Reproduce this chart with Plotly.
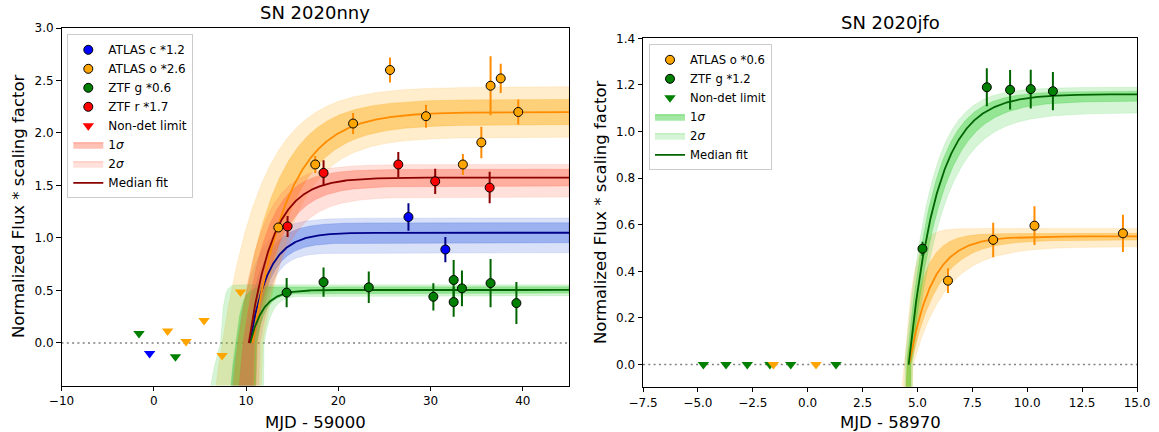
import numpy as np
import plotly.graph_objects as go

# ---------------- DATA: SN 2020nny (left) ----------------
c_x = [27.6, 31.6]
c_y = [1.20, 0.89]
c_err = [0.13, 0.12]

o_x = [13.5, 17.5, 21.6, 25.6, 29.5, 33.5, 35.5, 36.5, 37.6, 39.5]
o_y = [1.10, 1.70, 2.09, 2.60, 2.16, 1.70, 1.91, 2.45, 2.52, 2.20]
o_err = [0.04, 0.08, 0.10, 0.12, 0.11, 0.10, 0.15, 0.28, 0.14, 0.12]

g_x = [14.4, 18.4, 23.3, 30.3, 32.5, 32.5, 33.4, 36.5, 39.3]
g_y = [0.48, 0.58, 0.53, 0.44, 0.60, 0.39, 0.52, 0.57, 0.38]
g_err = [0.14, 0.14, 0.15, 0.13, 0.19, 0.14, 0.17, 0.23, 0.20]

r_x = [14.5, 18.4, 26.5, 30.5, 36.4]
r_y = [1.11, 1.62, 1.70, 1.54, 1.48]
r_err = [0.10, 0.12, 0.12, 0.12, 0.15]

nd_c_x = [-0.45]
nd_c_y = [-0.10]
nd_o_x = [1.5, 3.5, 5.45, 7.4, 9.4]
nd_o_y = [0.115, 0.015, 0.215, -0.12, 0.485]
nd_g_x = [-1.6, 2.35]
nd_g_y = [0.09, -0.13]

# fit parameters [A, t0, tau, tau_neg] per band: ATLAS c, ATLAS o, ZTF g, ZTF r
left_names = ["c", "o", "g", "r"]
left_med = [[1.05, 10.4, 2.0, 1.0], [2.20, 10.7, 3.9, 1.0], [0.505, 10.45, 1.4, 1.0], [1.575, 10.3, 2.6, 1.0]]
left_u2 = [[1.19, 9.0, 2.0, 2.0], [2.44, 7.4, 4.4, 4.4], [0.555, 7.25, 0.3, 2.0], [1.70, 9.1, 2.6, 2.5]]
left_l2 = [[0.86, 11.2, 1.5, 0.3], [1.96, 11.8, 3.8, 0.5], [0.45, 11.95, 0.85, 0.05], [1.39, 11.5, 2.8, 0.3]]
left_u1 = [[1.145, 9.7, 2.0, 1.5], [2.32, 9.1, 4.0, 3.0], [0.535, 8.9, 0.6, 1.0], [1.655, 9.7, 2.5, 2.0]]
left_l1 = [[0.955, 10.8, 1.8, 0.3], [2.08, 11.2, 3.9, 0.5], [0.475, 11.1, 1.0, 0.1], [1.495, 10.9, 2.7, 0.3]]

# ---------------- DATA: SN 2020jfo (right) ----------------
ro_x = [6.39, 8.45, 10.33, 14.36]
ro_y = [0.36, 0.535, 0.596, 0.563]
ro_err = [0.053, 0.074, 0.083, 0.08]

rg_x = [5.23, 8.16, 9.22, 10.16, 11.17]
rg_y = [0.497, 1.19, 1.179, 1.182, 1.173]
rg_err = [0.03, 0.082, 0.085, 0.083, 0.082]

rnd_g_x = [-4.75, -3.72, -2.75, -1.72, -0.77, 1.29]
rnd_g_y = [0.0, 0.0, 0.0, 0.0, 0.0, 0.0]
rnd_o_x = [-1.56, 0.38]
rnd_o_y = [0.0, 0.0]

right_names = ["o", "g"]
right_med = [[0.55, 4.62, 1.03, 1.0], [1.16, 4.6, 1.28, 1.0]]
right_u2 = [[0.584, 4.4, 0.41, 0.63], [1.19, 4.42, 1.15, 0.2]]
right_l2 = [[0.506, 4.8, 1.5, 0.1], [1.08, 4.77, 1.45, 0.1]]
right_u1 = [[0.563, 4.52, 0.7, 0.3], [1.173, 4.5, 1.2, 0.15]]
right_l1 = [[0.535, 4.7, 1.25, 0.1], [1.131, 4.7, 1.38, 0.1]]

# ---------------- STYLE ----------------
FONT = "DejaVu Sans"
mcol = {"c": "blue", "o": "orange", "g": "green", "r": "red"}
lcol = {"c": "darkblue", "o": "darkorange", "g": "darkgreen", "r": "darkred"}
bcol = {"c": (65, 105, 225), "o": (255, 165, 0), "g": (50, 205, 50), "r": (255, 99, 71)}


def rgba(c, a):
    return "rgba(%d,%d,%d,%.3f)" % (c[0], c[1], c[2], a)


def model(t, p):
    A, t0, tau, tn = p
    u = t - t0
    pos = A * (1 - np.exp(-np.clip(u, 0, None) / tau))
    neg = A * (1 - np.exp(np.clip(np.clip(-u, 0, None) / tn, 0, 40)))
    return np.maximum(np.where(u >= 0, pos, neg), -5)


fig = go.Figure()


def add_band(t, up, lo, color, alpha, xa, ya):
    yu = model(t, up)
    yl = model(t, lo)
    fig.add_trace(go.Scatter(
        x=np.concatenate([t, t[::-1]]), y=np.concatenate([yu, yl[::-1]]),
        fill="toself", fillcolor=rgba(color, alpha), mode="lines",
        line=dict(width=0.6, color=rgba(color, alpha)), hoverinfo="skip",
        showlegend=False, xaxis=xa, yaxis=ya))


def add_panel(t, names, med, u2, l2, u1, l1, xa, ya):
    for i, n in enumerate(names):
        add_band(t, u2[i], l2[i], bcol[n], 0.2, xa, ya)
        add_band(t, u1[i], l1[i], bcol[n], 0.4, xa, ya)
    for i, n in enumerate(names):
        tm = t[t >= med[i][1]]
        fig.add_trace(go.Scatter(x=tm, y=model(tm, med[i]), mode="lines",
                                 line=dict(color=lcol[n], width=1.8),
                                 showlegend=False, xaxis=xa, yaxis=ya))


def add_points(x, y, err, n, xa, ya):
    fig.add_trace(go.Scatter(
        x=x, y=y, mode="markers",
        marker=dict(color=mcol[n], size=9, line=dict(color="black", width=1)),
        error_y=dict(type="data", array=err, visible=True, color=lcol[n], thickness=2, width=0),
        showlegend=False, xaxis=xa, yaxis=ya))


def add_nd(x, y, n, xa, ya):
    fig.add_trace(go.Scatter(
        x=x, y=y, mode="markers",
        marker=dict(color=mcol[n], size=10, symbol="triangle-down", line=dict(width=0)),
        showlegend=False, xaxis=xa, yaxis=ya))


tL = np.linspace(-10, 45, 2201)
tR = np.linspace(-7.5, 15, 1801)

add_panel(tL, left_names, left_med, left_u2, left_l2, left_u1, left_l1, "x", "y")
add_panel(tR, right_names, right_med, right_u2, right_l2, right_u1, right_l1, "x2", "y2")

add_points(c_x, c_y, c_err, "c", "x", "y")
add_points(o_x, o_y, o_err, "o", "x", "y")
add_points(g_x, g_y, g_err, "g", "x", "y")
add_points(r_x, r_y, r_err, "r", "x", "y")
add_nd(nd_c_x, nd_c_y, "c", "x", "y")
add_nd(nd_o_x, nd_o_y, "o", "x", "y")
add_nd(nd_g_x, nd_g_y, "g", "x", "y")

add_points(ro_x, ro_y, ro_err, "o", "x2", "y2")
add_points(rg_x, rg_y, rg_err, "g", "x2", "y2")
add_nd(rnd_g_x, rnd_g_y, "g", "x2", "y2")
add_nd(rnd_o_x, rnd_o_y, "o", "x2", "y2")

# ---------------- LEGENDS ----------------
def leg_marker(name, color, legend, symbol="circle", edge=True):
    fig.add_trace(go.Scatter(
        x=[None], y=[None], mode="markers", name=name, legend=legend,
        marker=dict(color=color, size=9 if symbol == "circle" else 10, symbol=symbol,
                    line=dict(color="black", width=1 if edge else 0))))


def leg_fill(name, color, alpha, legend):
    fig.add_trace(go.Scatter(
        x=[None], y=[None], mode="lines", fill="toself", name=name, legend=legend,
        fillcolor=rgba(color, alpha), line=dict(color=rgba(color, alpha + 0.15), width=1)))


def leg_line(name, color, legend):
    fig.add_trace(go.Scatter(x=[None], y=[None], mode="lines", name=name, legend=legend,
                             line=dict(color=color, width=1.8)))


leg_marker("ATLAS c *1.2", "blue", "legend")
leg_marker("ATLAS o *2.6", "orange", "legend")
leg_marker("ZTF g *0.6", "green", "legend")
leg_marker("ZTF r *1.7", "red", "legend")
leg_marker("Non-det limit", "red", "legend", symbol="triangle-down", edge=False)
leg_fill("1<i>σ</i>", bcol["r"], 0.4, "legend")
leg_fill("2<i>σ</i>", bcol["r"], 0.2, "legend")
leg_line("Median fit", "darkred", "legend")

leg_marker("ATLAS o *0.6", "orange", "legend2")
leg_marker("ZTF g *1.2", "green", "legend2")
leg_marker("Non-det limit", "green", "legend2", symbol="triangle-down", edge=False)
leg_fill("1<i>σ</i>", bcol["g"], 0.45, "legend2")
leg_fill("2<i>σ</i>", bcol["g"], 0.2, "legend2")
leg_line("Median fit", "darkgreen", "legend2")

# ---------------- LAYOUT ----------------
W, H = 1159, 432
axis_common = dict(showline=True, mirror=True, linecolor="black", linewidth=1,
                   ticks="outside", ticklen=4.5, tickwidth=1, tickcolor="black",
                   showgrid=False, zeroline=False, automargin=False,
                   tickfont=dict(family=FONT, size=12, color="black"))

leg_common = dict(bgcolor="rgba(255,255,255,0.85)", bordercolor="#cccccc", borderwidth=1,
                  xanchor="left", yanchor="top", itemwidth=30, tracegroupgap=0)

fig.update_layout(
    width=W, height=H, autosize=False,
    margin=dict(l=0, r=0, t=0, b=0, pad=0, autoexpand=False),
    paper_bgcolor="white", plot_bgcolor="white",
    font=dict(family=FONT, color="black"),
    xaxis=dict(domain=[61.5 / W, 569 / W], range=[-10, 45],
               tickvals=[-10, 0, 10, 20, 30, 40], anchor="y", **axis_common),
    yaxis=dict(domain=[1 - 385.5 / H, 1 - 28 / H], range=[-0.405, 3.0],
               tickvals=[0, 0.5, 1.0, 1.5, 2.0, 2.5, 3.0], tickformat=".1f",
               anchor="x", **axis_common),
    xaxis2=dict(domain=[643 / W, 1137 / W], range=[-7.5, 15],
                tickvals=[-7.5, -5, -2.5, 0, 2.5, 5, 7.5, 10, 12.5, 15], tickformat=".1f",
                anchor="y2", **axis_common),
    yaxis2=dict(domain=[1 - 386.7 / H, 1 - 38.3 / H], range=[-0.095, 1.4],
                tickvals=[0, 0.2, 0.4, 0.6, 0.8, 1.0, 1.2, 1.4], tickformat=".1f",
                anchor="x2", **axis_common),
    legend=dict(x=67.3 / W, y=1 - 34.3 / H, font=dict(family=FONT, size=12, color="black"),
                **leg_common),
    legend2=dict(x=649 / W, y=1 - 44.3 / H, font=dict(family=FONT, size=11.6, color="black"),
                 **leg_common),
    showlegend=True,
    shapes=[
        dict(type="line", xref="x domain", yref="y", x0=0, x1=1, y0=0, y1=0,
             line=dict(color="grey", width=1.5, dash="2px,3.3px"), layer="below"),
        dict(type="line", xref="x2 domain", yref="y2", x0=0, x1=1, y0=0, y1=0,
             line=dict(color="grey", width=1.5, dash="2px,3.3px"), layer="below"),
    ],
    annotations=[
        dict(text="SN 2020nny", x=315 / W, y=1 - 13 / H, xref="paper", yref="paper",
             showarrow=False, xanchor="center", yanchor="middle", font=dict(size=18, family=FONT)),
        dict(text="SN 2020jfo", x=890 / W, y=1 - 23 / H, xref="paper", yref="paper",
             showarrow=False, xanchor="center", yanchor="middle", font=dict(size=18, family=FONT)),
        dict(text="MJD - 59000", x=315 / W, y=1 - 422 / H, xref="paper", yref="paper",
             showarrow=False, xanchor="center", yanchor="middle", font=dict(size=16.5, family=FONT)),
        dict(text="MJD - 58970", x=890 / W, y=1 - 422 / H, xref="paper", yref="paper",
             showarrow=False, xanchor="center", yanchor="middle", font=dict(size=16.5, family=FONT)),
        dict(text="Normalized Flux * scaling factor", x=18 / W, y=1 - 206 / H, xref="paper",
             yref="paper", showarrow=False, textangle=-90, xanchor="center", yanchor="middle",
             font=dict(size=16.5, family=FONT)),
        dict(text="Normalized Flux * scaling factor", x=601 / W, y=1 - 212 / H, xref="paper",
             yref="paper", showarrow=False, textangle=-90, xanchor="center", yanchor="middle",
             font=dict(size=16.5, family=FONT)),
    ],
)

fig.write_html("out.html")
